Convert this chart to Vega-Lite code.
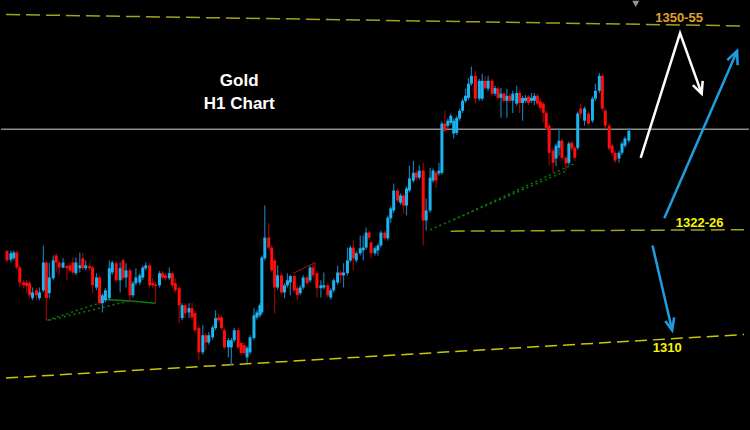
{
"$schema": "https://vega.github.io/schema/vega-lite/v6.json",
"width": 750, "height": 430, "padding": 0,
"autosize": {"type": "fit", "contains": "padding"},
"background": "#000000",
"config": {"view": {"stroke": null}},
"datasets": {
"candles": [
{"t":1,"o":1320.9,"c":1319.6,"h":1321.1,"l":1319.3},
{"t":5,"o":1319.7,"c":1320.6,"h":1321.0,"l":1319.3},
{"t":8,"o":1319.9,"c":1320.7,"h":1321.0,"l":1319.6},
{"t":11,"o":1320.7,"c":1318.6,"h":1321.0,"l":1318.3},
{"t":14,"o":1318.6,"c":1316.5,"h":1318.9,"l":1315.8},
{"t":18,"o":1316.5,"c":1316.1,"h":1316.8,"l":1315.7},
{"t":21,"o":1316.5,"c":1316.0,"h":1316.8,"l":1315.0},
{"t":24,"o":1316.4,"c":1314.7,"h":1316.7,"l":1314.4},
{"t":27,"o":1314.3,"c":1315.1,"h":1315.8,"l":1314.0},
{"t":31,"o":1315.4,"c":1314.7,"h":1315.7,"l":1314.0},
{"t":34,"o":1314.3,"c":1315.1,"h":1315.8,"l":1314.0},
{"t":38,"o":1315.4,"c":1319.3,"h":1321.7,"l":1315.1},
{"t":41,"o":1319.3,"c":1314.3,"h":1319.6,"l":1311.2},
{"t":44,"o":1315.0,"c":1317.2,"h":1319.3,"l":1314.3},
{"t":48,"o":1317.1,"c":1319.6,"h":1320.3,"l":1316.8},
{"t":51,"o":1320.3,"c":1319.3,"h":1320.6,"l":1317.9},
{"t":54,"o":1319.3,"c":1318.6,"h":1319.6,"l":1317.5},
{"t":58,"o":1318.6,"c":1319.3,"h":1319.9,"l":1318.5},
{"t":62,"o":1318.8,"c":1318.5,"h":1319.0,"l":1316.8},
{"t":65,"o":1318.9,"c":1318.2,"h":1319.2,"l":1317.9},
{"t":68,"o":1319.3,"c":1317.9,"h":1320.0,"l":1317.6},
{"t":71,"o":1317.8,"c":1319.3,"h":1320.0,"l":1317.5},
{"t":75,"o":1318.5,"c":1318.9,"h":1320.7,"l":1317.9},
{"t":78,"o":1319.9,"c":1318.5,"h":1320.6,"l":1318.2},
{"t":81,"o":1318.5,"c":1318.9,"h":1319.6,"l":1318.2},
{"t":85,"o":1318.8,"c":1318.5,"h":1319.3,"l":1318.2},
{"t":88,"o":1318.6,"c":1316.1,"h":1318.9,"l":1315.0},
{"t":92,"o":1315.8,"c":1317.2,"h":1317.8,"l":1315.4},
{"t":95,"o":1317.2,"c":1313.6,"h":1317.5,"l":1313.3},
{"t":98,"o":1313.6,"c":1314.7,"h":1315.0,"l":1312.3},
{"t":101,"o":1314.0,"c":1315.4,"h":1315.7,"l":1313.7},
{"t":105,"o":1314.3,"c":1318.5,"h":1319.6,"l":1314.0},
{"t":108,"o":1317.9,"c":1319.3,"h":1319.6,"l":1317.6},
{"t":112,"o":1319.2,"c":1316.8,"h":1319.5,"l":1316.5},
{"t":116,"o":1316.8,"c":1318.5,"h":1319.3,"l":1315.1},
{"t":119,"o":1319.6,"c":1317.1,"h":1319.9,"l":1316.8},
{"t":122,"o":1317.2,"c":1318.2,"h":1319.2,"l":1315.8},
{"t":126,"o":1318.2,"c":1314.7,"h":1318.5,"l":1314.0},
{"t":129,"o":1314.7,"c":1316.4,"h":1316.7,"l":1314.4},
{"t":132,"o":1316.4,"c":1317.2,"h":1318.5,"l":1316.1},
{"t":136,"o":1316.5,"c":1317.5,"h":1317.8,"l":1316.1},
{"t":139,"o":1317.2,"c":1318.6,"h":1318.9,"l":1316.9},
{"t":142,"o":1318.5,"c":1318.9,"h":1319.3,"l":1318.2},
{"t":146,"o":1318.9,"c":1316.1,"h":1319.2,"l":1315.8},
{"t":149,"o":1316.4,"c":1316.1,"h":1317.1,"l":1315.8},
{"t":152,"o":1316.2,"c":1316.0,"h":1316.5,"l":1313.6},
{"t":156,"o":1316.1,"c":1317.8,"h":1318.1,"l":1315.8},
{"t":159,"o":1317.8,"c":1317.2,"h":1318.1,"l":1316.9},
{"t":162,"o":1317.5,"c":1317.1,"h":1317.8,"l":1316.8},
{"t":166,"o":1317.1,"c":1317.8,"h":1318.6,"l":1316.8},
{"t":169,"o":1317.8,"c":1316.1,"h":1318.1,"l":1315.8},
{"t":172,"o":1316.4,"c":1315.4,"h":1317.1,"l":1315.1},
{"t":176,"o":1315.7,"c":1313.3,"h":1316.0,"l":1310.8},
{"t":179,"o":1311.5,"c":1313.3,"h":1313.6,"l":1311.2},
{"t":182,"o":1313.3,"c":1312.2,"h":1313.6,"l":1311.5},
{"t":186,"o":1312.3,"c":1312.9,"h":1313.6,"l":1311.5},
{"t":189,"o":1312.9,"c":1311.6,"h":1313.7,"l":1311.3},
{"t":192,"o":1312.2,"c":1309.8,"h":1312.5,"l":1309.5},
{"t":196,"o":1310.1,"c":1306.7,"h":1310.4,"l":1305.6},
{"t":200,"o":1306.7,"c":1309.1,"h":1310.5,"l":1306.4},
{"t":203,"o":1309.1,"c":1308.1,"h":1309.4,"l":1307.0},
{"t":206,"o":1308.1,"c":1309.1,"h":1309.5,"l":1307.8},
{"t":210,"o":1308.8,"c":1310.2,"h":1310.5,"l":1308.5},
{"t":213,"o":1310.1,"c":1311.5,"h":1312.6,"l":1309.8},
{"t":216,"o":1311.6,"c":1311.2,"h":1312.2,"l":1310.9},
{"t":219,"o":1311.6,"c":1310.1,"h":1311.9,"l":1309.8},
{"t":222,"o":1309.8,"c":1307.4,"h":1310.1,"l":1307.1},
{"t":226,"o":1307.4,"c":1308.4,"h":1308.7,"l":1306.0},
{"t":229,"o":1307.4,"c":1308.4,"h":1308.7,"l":1304.9},
{"t":232,"o":1308.4,"c":1309.8,"h":1310.1,"l":1308.1},
{"t":236,"o":1309.8,"c":1307.4,"h":1310.1,"l":1307.1},
{"t":239,"o":1308.0,"c":1306.6,"h":1308.3,"l":1306.3},
{"t":242,"o":1307.7,"c":1306.6,"h":1308.1,"l":1306.3},
{"t":245,"o":1306.0,"c":1307.3,"h":1307.6,"l":1305.2},
{"t":248,"o":1306.7,"c":1308.8,"h":1309.1,"l":1306.4},
{"t":252,"o":1308.7,"c":1311.9,"h":1312.9,"l":1308.4},
{"t":255,"o":1311.6,"c":1312.3,"h":1312.6,"l":1311.3},
{"t":258,"o":1311.9,"c":1313.3,"h":1313.6,"l":1311.6},
{"t":260,"o":1312.3,"c":1320.0,"h":1320.3,"l":1312.0},
{"t":263,"o":1319.9,"c":1322.8,"h":1327.3,"l":1319.6},
{"t":267,"o":1322.8,"c":1321.4,"h":1324.8,"l":1321.1},
{"t":270,"o":1321.4,"c":1318.2,"h":1321.7,"l":1317.9},
{"t":273,"o":1319.6,"c":1315.8,"h":1319.9,"l":1312.2},
{"t":276,"o":1315.8,"c":1317.5,"h":1318.9,"l":1315.5},
{"t":280,"o":1317.5,"c":1315.1,"h":1317.8,"l":1314.8},
{"t":283,"o":1315.1,"c":1316.1,"h":1316.4,"l":1314.3},
{"t":286,"o":1316.1,"c":1316.8,"h":1317.8,"l":1315.8},
{"t":289,"o":1316.5,"c":1317.4,"h":1317.6,"l":1314.7},
{"t":293,"o":1317.4,"c":1315.4,"h":1317.6,"l":1315.1},
{"t":296,"o":1315.7,"c":1314.7,"h":1316.0,"l":1314.0},
{"t":299,"o":1315.0,"c":1315.8,"h":1316.1,"l":1314.7},
{"t":302,"o":1315.8,"c":1317.2,"h":1317.5,"l":1315.5},
{"t":306,"o":1317.2,"c":1316.4,"h":1317.5,"l":1316.1},
{"t":309,"o":1316.8,"c":1318.6,"h":1318.9,"l":1316.5},
{"t":312,"o":1318.6,"c":1317.5,"h":1319.3,"l":1317.2},
{"t":316,"o":1317.8,"c":1315.7,"h":1318.1,"l":1314.4},
{"t":320,"o":1315.7,"c":1316.1,"h":1316.8,"l":1314.4},
{"t":323,"o":1315.8,"c":1316.1,"h":1317.9,"l":1315.5},
{"t":327,"o":1316.1,"c":1314.7,"h":1316.4,"l":1314.4},
{"t":330,"o":1314.4,"c":1315.4,"h":1315.7,"l":1314.1},
{"t":333,"o":1315.4,"c":1316.8,"h":1317.1,"l":1315.1},
{"t":337,"o":1316.5,"c":1317.9,"h":1318.9,"l":1316.2},
{"t":340,"o":1317.9,"c":1317.5,"h":1318.2,"l":1316.4},
{"t":343,"o":1317.5,"c":1317.9,"h":1319.2,"l":1315.8},
{"t":347,"o":1317.8,"c":1319.6,"h":1321.4,"l":1317.5},
{"t":350,"o":1319.6,"c":1321.4,"h":1321.7,"l":1319.3},
{"t":353,"o":1321.4,"c":1319.9,"h":1322.4,"l":1318.2},
{"t":356,"o":1319.6,"c":1320.6,"h":1320.9,"l":1319.3},
{"t":360,"o":1320.6,"c":1321.3,"h":1323.1,"l":1320.3},
{"t":363,"o":1321.0,"c":1321.4,"h":1323.1,"l":1319.6},
{"t":366,"o":1321.4,"c":1323.5,"h":1324.2,"l":1321.1},
{"t":369,"o":1323.5,"c":1322.8,"h":1323.8,"l":1322.5},
{"t":371,"o":1322.1,"c":1320.6,"h":1322.4,"l":1319.9},
{"t":375,"o":1320.6,"c":1321.3,"h":1321.6,"l":1320.3},
{"t":378,"o":1321.0,"c":1321.7,"h":1322.0,"l":1320.3},
{"t":381,"o":1321.7,"c":1323.5,"h":1323.8,"l":1321.4},
{"t":385,"o":1323.5,"c":1322.7,"h":1323.8,"l":1322.4},
{"t":388,"o":1322.7,"c":1325.6,"h":1325.9,"l":1322.4},
{"t":391,"o":1325.5,"c":1326.9,"h":1327.2,"l":1324.9},
{"t":394,"o":1326.6,"c":1329.4,"h":1330.4,"l":1326.3},
{"t":398,"o":1329.4,"c":1328.0,"h":1329.7,"l":1327.7},
{"t":401,"o":1327.7,"c":1328.7,"h":1329.0,"l":1327.4},
{"t":404,"o":1328.7,"c":1327.3,"h":1329.0,"l":1326.2},
{"t":407,"o":1327.3,"c":1329.7,"h":1330.0,"l":1325.9},
{"t":410,"o":1329.4,"c":1331.1,"h":1332.9,"l":1329.1},
{"t":414,"o":1330.8,"c":1331.9,"h":1333.6,"l":1330.5},
{"t":417,"o":1331.9,"c":1331.2,"h":1332.2,"l":1330.8},
{"t":420,"o":1331.2,"c":1332.2,"h":1332.9,"l":1330.9},
{"t":424,"o":1332.2,"c":1325.2,"h":1333.3,"l":1321.7},
{"t":427,"o":1325.2,"c":1326.6,"h":1328.3,"l":1323.8},
{"t":431,"o":1326.6,"c":1331.2,"h":1332.6,"l":1326.3},
{"t":434,"o":1330.8,"c":1332.2,"h":1332.5,"l":1330.5},
{"t":437,"o":1331.9,"c":1330.8,"h":1332.2,"l":1329.8},
{"t":440,"o":1331.8,"c":1332.2,"h":1333.3,"l":1331.5},
{"t":443,"o":1331.9,"c":1338.8,"h":1339.1,"l":1331.6},
{"t":446,"o":1338.8,"c":1337.8,"h":1340.6,"l":1337.5},
{"t":449,"o":1338.5,"c":1339.2,"h":1339.5,"l":1338.2},
{"t":452,"o":1338.9,"c":1339.9,"h":1340.2,"l":1338.6},
{"t":455,"o":1337.4,"c":1339.2,"h":1339.5,"l":1336.7},
{"t":458,"o":1337.5,"c":1339.6,"h":1339.9,"l":1337.2},
{"t":461,"o":1339.5,"c":1340.6,"h":1340.9,"l":1339.2},
{"t":464,"o":1340.6,"c":1342.0,"h":1342.3,"l":1340.3},
{"t":467,"o":1342.0,"c":1342.7,"h":1343.7,"l":1341.7},
{"t":470,"o":1342.4,"c":1344.4,"h":1345.2,"l":1342.1},
{"t":473,"o":1344.4,"c":1345.5,"h":1346.8,"l":1344.1},
{"t":477,"o":1345.5,"c":1342.3,"h":1346.2,"l":1341.6},
{"t":481,"o":1342.3,"c":1344.8,"h":1345.1,"l":1342.0},
{"t":484,"o":1342.3,"c":1344.8,"h":1345.8,"l":1342.0},
{"t":487,"o":1344.8,"c":1343.8,"h":1345.5,"l":1343.5},
{"t":490,"o":1343.7,"c":1344.8,"h":1345.5,"l":1343.4},
{"t":494,"o":1344.8,"c":1343.0,"h":1345.1,"l":1342.7},
{"t":497,"o":1343.0,"c":1343.8,"h":1344.1,"l":1342.7},
{"t":500,"o":1343.7,"c":1342.4,"h":1344.0,"l":1342.1},
{"t":503,"o":1342.4,"c":1343.0,"h":1343.8,"l":1339.6},
{"t":506,"o":1343.0,"c":1342.0,"h":1343.3,"l":1341.7},
{"t":509,"o":1342.0,"c":1342.7,"h":1343.7,"l":1339.6},
{"t":512,"o":1342.7,"c":1342.0,"h":1343.0,"l":1341.7},
{"t":515,"o":1342.0,"c":1343.0,"h":1343.4,"l":1340.3},
{"t":519,"o":1341.6,"c":1343.1,"h":1344.1,"l":1341.3},
{"t":522,"o":1343.1,"c":1341.7,"h":1343.4,"l":1340.3},
{"t":525,"o":1341.7,"c":1342.4,"h":1342.7,"l":1339.2},
{"t":528,"o":1342.0,"c":1342.4,"h":1342.8,"l":1341.7},
{"t":531,"o":1342.6,"c":1341.7,"h":1342.8,"l":1341.4},
{"t":534,"o":1342.0,"c":1342.4,"h":1343.1,"l":1341.7},
{"t":537,"o":1342.0,"c":1342.7,"h":1343.1,"l":1341.4},
{"t":540,"o":1342.7,"c":1341.6,"h":1343.0,"l":1341.3},
{"t":543,"o":1341.9,"c":1341.0,"h":1342.2,"l":1340.6},
{"t":546,"o":1341.6,"c":1340.3,"h":1341.9,"l":1338.9},
{"t":549,"o":1340.3,"c":1338.2,"h":1340.6,"l":1337.9},
{"t":552,"o":1338.5,"c":1334.7,"h":1338.8,"l":1332.9},
{"t":556,"o":1335.0,"c":1333.3,"h":1335.3,"l":1331.9},
{"t":559,"o":1333.9,"c":1335.7,"h":1336.0,"l":1332.8},
{"t":562,"o":1335.4,"c":1336.4,"h":1338.1,"l":1334.3},
{"t":565,"o":1336.4,"c":1334.0,"h":1336.7,"l":1333.6},
{"t":569,"o":1334.0,"c":1333.2,"h":1334.3,"l":1332.2},
{"t":572,"o":1333.3,"c":1336.0,"h":1336.3,"l":1333.0},
{"t":575,"o":1336.1,"c":1335.3,"h":1336.4,"l":1335.0},
{"t":578,"o":1335.4,"c":1334.0,"h":1335.7,"l":1333.6},
{"t":581,"o":1335.4,"c":1340.2,"h":1340.5,"l":1335.1},
{"t":584,"o":1340.9,"c":1340.2,"h":1341.6,"l":1339.5},
{"t":588,"o":1339.2,"c":1340.9,"h":1341.2,"l":1338.5},
{"t":592,"o":1340.2,"c":1338.8,"h":1340.5,"l":1338.5},
{"t":596,"o":1339.2,"c":1342.3,"h":1342.6,"l":1338.9},
{"t":599,"o":1342.3,"c":1343.4,"h":1344.4,"l":1342.0},
{"t":603,"o":1343.4,"c":1345.5,"h":1345.9,"l":1343.1},
{"t":606,"o":1345.5,"c":1340.9,"h":1345.8,"l":1340.6},
{"t":609,"o":1340.6,"c":1338.5,"h":1340.9,"l":1338.1},
{"t":613,"o":1338.5,"c":1335.3,"h":1338.8,"l":1335.0},
{"t":616,"o":1335.7,"c":1334.7,"h":1336.0,"l":1334.3},
{"t":619,"o":1334.7,"c":1333.6,"h":1335.0,"l":1333.3},
{"t":623,"o":1333.9,"c":1334.7,"h":1335.0,"l":1333.3},
{"t":626,"o":1334.7,"c":1336.0,"h":1336.3,"l":1334.4},
{"t":629,"o":1335.7,"c":1336.7,"h":1337.0,"l":1335.4},
{"t":633,"o":1336.4,"c":1337.8,"h":1338.2,"l":1336.1}
],
"levels": [
{"id":"top","k":0,"t":0,"p":1354.1},{"id":"top","k":1,"t":750,"p":1352.5},
{"id":"mid","k":0,"t":452,"p":1323.7},{"id":"mid","k":1,"t":750,"p":1323.9},
{"id":"low","k":0,"t":0,"p":1303.1},{"id":"low","k":1,"t":750,"p":1309.2}
],
"white": [
{"id":"shaft","k":0,"t":645,"p":1334.0},{"id":"shaft","k":1,"t":685,"p":1351.5},{"id":"shaft","k":2,"t":707,"p":1343.0},
{"id":"b1","k":0,"t":698,"p":1344.2},{"id":"b1","k":1,"t":707,"p":1343.0},{"id":"b1","k":2,"t":708,"p":1344.8}
],
"blue": [
{"id":"a1","k":0,"t":669,"p":1325.5},{"id":"a1","k":1,"t":743,"p":1349.0},
{"id":"a1h","k":0,"t":733,"p":1347.7},{"id":"a1h","k":1,"t":743,"p":1349.0},{"id":"a1h","k":2,"t":743.5,"p":1347.0},
{"id":"a2","k":0,"t":657,"p":1321.7},{"id":"a2","k":1,"t":677,"p":1309.8},
{"id":"a2h","k":0,"t":670,"p":1311.1},{"id":"a2h","k":1,"t":677,"p":1309.8},{"id":"a2h","k":2,"t":679,"p":1311.6}
],
"greendot": [
{"id":"g1","k":0,"t":42,"p":1311.2},{"id":"g1","k":1,"t":97,"p":1313.7},
{"id":"g2","k":0,"t":44,"p":1311.2},{"id":"g2","k":1,"t":128,"p":1314.0},
{"id":"g3","k":0,"t":431,"p":1323.9},{"id":"g3","k":1,"t":570,"p":1332.2},
{"id":"g4","k":0,"t":455,"p":1325.3},{"id":"g4","k":1,"t":578,"p":1333.2}
],
"greensolid": [
{"id":"s1","k":0,"t":100,"p":1314.1},{"id":"s1","k":1,"t":127,"p":1313.9},{"id":"s1","k":2,"t":152,"p":1313.6}
],
"redline": [
{"id":"r1","k":0,"t":292,"p":1317.8},{"id":"r1","k":1,"t":314,"p":1319.3},{"id":"r1","k":2,"t":314,"p":1318.5}
],
"labels": [
{"txt":"Gold","t":237,"p":1344.8,"kind":"title"},
{"txt":"H1 Chart","t":237,"p":1341.6,"kind":"title"},
{"txt":"1350-55","t":684,"p":1353.6,"kind":"top"},
{"txt":"1322-26","t":705,"p":1324.9,"kind":"lvl"},
{"txt":"1310","t":672,"p":1307.3,"kind":"lvl"}
]
},
"layer": [
{"data": {"name": "levels"}, "transform": [{"filter": "datum.id == 'low'"}],
 "mark": {"type": "line", "color": "#c8c800", "strokeWidth": 1.5, "strokeDash": [12, 6]},
 "encoding": {"x": {"field": "t", "type": "quantitative", "scale": {"domain": [0, 750], "nice": false, "zero": false}, "axis": null},
  "y": {"field": "p", "type": "quantitative", "scale": {"domain": [1295.8, 1356], "nice": false, "zero": false}, "axis": null},
  "detail": {"field": "id"}, "order": {"field": "k"}}},
{"data": {"name": "levels"}, "transform": [{"filter": "datum.id != 'low'"}],
 "mark": {"type": "line", "color": "#a3a31a", "strokeWidth": 1.5, "strokeDash": [14, 6]},
 "encoding": {"x": {"field": "t", "type": "quantitative", "scale": {"domain": [0, 750], "nice": false, "zero": false}, "axis": null},
  "y": {"field": "p", "type": "quantitative", "scale": {"domain": [1295.8, 1356], "nice": false, "zero": false}, "axis": null},
  "detail": {"field": "id"}, "order": {"field": "k"}}},
{"data": {"values": [{"p": 1338.0}]},
 "mark": {"type": "rule", "color": "#8c8c8c", "strokeWidth": 1.5},
 "encoding": {"y": {"field": "p", "type": "quantitative", "scale": {"domain": [1295.8, 1356], "nice": false, "zero": false}, "axis": null}}},
{"data": {"name": "greendot"},
 "mark": {"type": "line", "color": "#0b7a0b", "strokeWidth": 1.5, "strokeDash": [2, 3]},
 "encoding": {"x": {"field": "t", "type": "quantitative", "scale": {"domain": [0, 750], "nice": false, "zero": false}, "axis": null},
  "y": {"field": "p", "type": "quantitative", "scale": {"domain": [1295.8, 1356], "nice": false, "zero": false}, "axis": null},
  "detail": {"field": "id"}, "order": {"field": "k"}}},
{"data": {"name": "greensolid"},
 "mark": {"type": "line", "color": "#0b7a0b", "strokeWidth": 1.5},
 "encoding": {"x": {"field": "t", "type": "quantitative", "scale": {"domain": [0, 750], "nice": false, "zero": false}, "axis": null},
  "y": {"field": "p", "type": "quantitative", "scale": {"domain": [1295.8, 1356], "nice": false, "zero": false}, "axis": null},
  "detail": {"field": "id"}, "order": {"field": "k"}}},
{"data": {"name": "redline"},
 "mark": {"type": "line", "color": "#b01010", "strokeWidth": 1},
 "encoding": {"x": {"field": "t", "type": "quantitative", "scale": {"domain": [0, 750], "nice": false, "zero": false}, "axis": null},
  "y": {"field": "p", "type": "quantitative", "scale": {"domain": [1295.8, 1356], "nice": false, "zero": false}, "axis": null},
  "detail": {"field": "id"}, "order": {"field": "k"}}},
{"data": {"name": "candles"},
 "mark": {"type": "rule", "strokeWidth": 1.2},
 "encoding": {"x": {"field": "t", "type": "quantitative", "scale": {"domain": [0, 750], "nice": false, "zero": false}, "axis": null},
  "y": {"field": "l", "type": "quantitative", "scale": {"domain": [1295.8, 1356], "nice": false, "zero": false}, "axis": null},
  "y2": {"field": "h"},
  "color": {"condition": {"test": "datum.c >= datum.o", "value": "#1679ad"}, "value": "#a00000"}}},
{"data": {"name": "candles"},
 "mark": {"type": "bar", "size": 3, "minBandSize": 1},
 "encoding": {"x": {"field": "t", "type": "quantitative", "scale": {"domain": [0, 750], "nice": false, "zero": false}, "axis": null},
  "y": {"field": "o", "type": "quantitative", "scale": {"domain": [1295.8, 1356], "nice": false, "zero": false}, "axis": null},
  "y2": {"field": "c"},
  "color": {"condition": {"test": "datum.c >= datum.o", "value": "#1ab4f2"}, "value": "#ff0d0d"}}},
{"data": {"name": "white"},
 "mark": {"type": "line", "color": "#ffffff", "strokeWidth": 2.5, "strokeJoin": "miter"},
 "encoding": {"x": {"field": "t", "type": "quantitative", "scale": {"domain": [0, 750], "nice": false, "zero": false}, "axis": null},
  "y": {"field": "p", "type": "quantitative", "scale": {"domain": [1295.8, 1356], "nice": false, "zero": false}, "axis": null},
  "detail": {"field": "id"}, "order": {"field": "k"}}},
{"data": {"name": "blue"},
 "mark": {"type": "line", "color": "#1e9de0", "strokeWidth": 2.5},
 "encoding": {"x": {"field": "t", "type": "quantitative", "scale": {"domain": [0, 750], "nice": false, "zero": false}, "axis": null},
  "y": {"field": "p", "type": "quantitative", "scale": {"domain": [1295.8, 1356], "nice": false, "zero": false}, "axis": null},
  "detail": {"field": "id"}, "order": {"field": "k"}}},
{"data": {"values": [{"t": 640, "p": 1355.6}]},
 "mark": {"type": "point", "shape": "triangle-down", "filled": true, "size": 50, "color": "#8a96a4", "opacity": 1},
 "encoding": {"x": {"field": "t", "type": "quantitative", "scale": {"domain": [0, 750], "nice": false, "zero": false}, "axis": null},
  "y": {"field": "p", "type": "quantitative", "scale": {"domain": [1295.8, 1356], "nice": false, "zero": false}, "axis": null}}},
{"data": {"name": "labels"}, "transform": [{"filter": "datum.kind == 'title'"}],
 "mark": {"type": "text", "font": "Liberation Sans", "fontWeight": "bold", "fontSize": 17, "color": "#ffffff", "align": "center", "baseline": "middle"},
 "encoding": {"x": {"field": "t", "type": "quantitative", "scale": {"domain": [0, 750], "nice": false, "zero": false}, "axis": null},
  "y": {"field": "p", "type": "quantitative", "scale": {"domain": [1295.8, 1356], "nice": false, "zero": false}, "axis": null},
  "text": {"field": "txt"}}},
{"data": {"name": "labels"}, "transform": [{"filter": "datum.kind == 'top'"}],
 "mark": {"type": "text", "font": "Liberation Sans", "fontWeight": "bold", "fontSize": 13, "color": "#e0a22a", "align": "center", "baseline": "middle"},
 "encoding": {"x": {"field": "t", "type": "quantitative", "scale": {"domain": [0, 750], "nice": false, "zero": false}, "axis": null},
  "y": {"field": "p", "type": "quantitative", "scale": {"domain": [1295.8, 1356], "nice": false, "zero": false}, "axis": null},
  "text": {"field": "txt"}}},
{"data": {"name": "labels"}, "transform": [{"filter": "datum.kind == 'lvl'"}],
 "mark": {"type": "text", "font": "Liberation Sans", "fontWeight": "bold", "fontSize": 13, "color": "#f5f500", "align": "center", "baseline": "middle"},
 "encoding": {"x": {"field": "t", "type": "quantitative", "scale": {"domain": [0, 750], "nice": false, "zero": false}, "axis": null},
  "y": {"field": "p", "type": "quantitative", "scale": {"domain": [1295.8, 1356], "nice": false, "zero": false}, "axis": null},
  "text": {"field": "txt"}}}
]
}
